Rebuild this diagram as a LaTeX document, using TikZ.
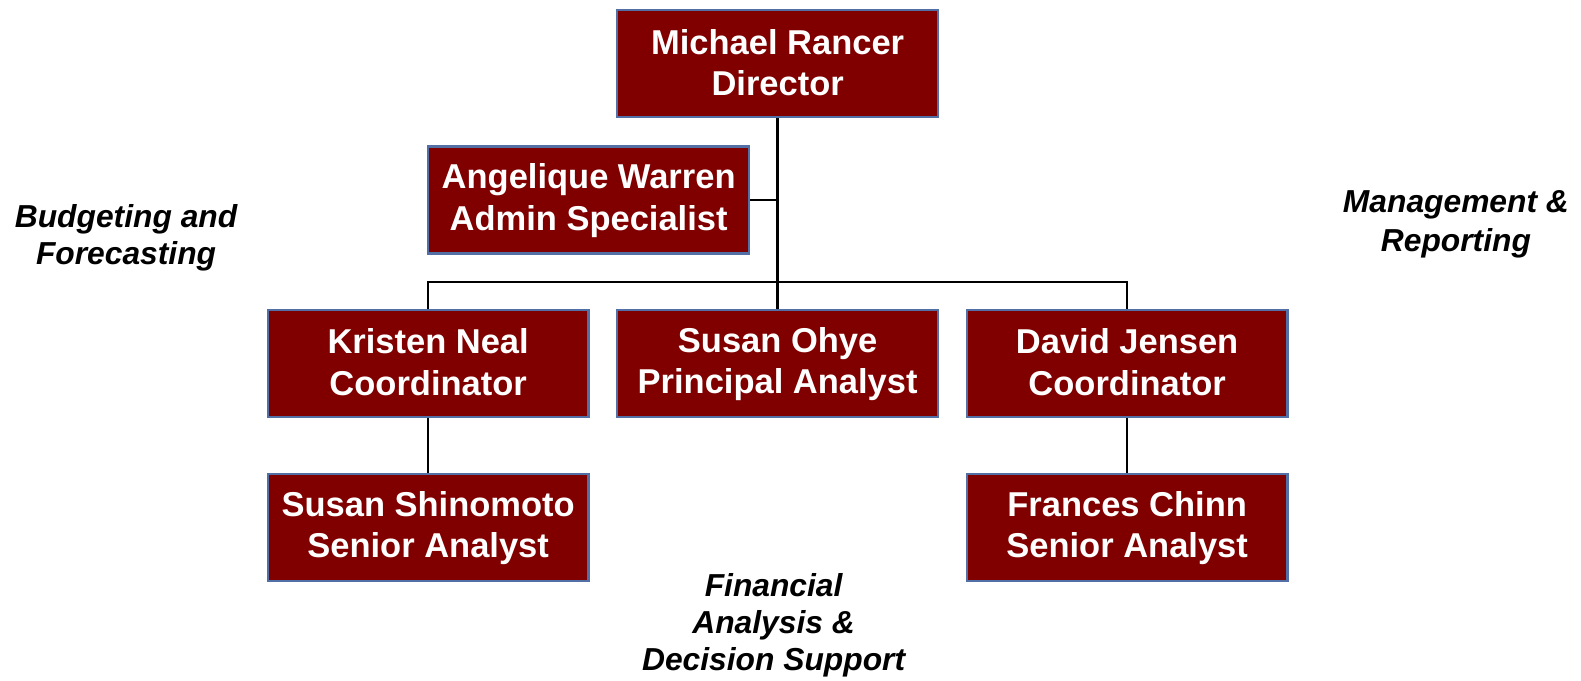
\documentclass[tikz,border=0pt]{standalone}
\usepackage{fontspec}
\setmainfont{Liberation Sans}
\definecolor{boxfill}{HTML}{800000}
\definecolor{boxline}{HTML}{5370A6}
\newcommand\bxs{\rule[-3.7pt]{0pt}{29.5pt}}
\newcommand\lbs{\rule[-8pt]{0pt}{25pt}}
\begin{document}
\begin{tikzpicture}[x=1pt,y=-1pt,
  person/.style={draw=boxline, line width=2.4pt, fill=boxfill, text=white,
    minimum width=318pt, minimum height=106pt, inner sep=0pt, align=center,
    font=\fontsize{34.2}{41}\selectfont\bfseries},
  area/.style={align=center, inner sep=0pt, font=\fontsize{31.5}{#1}\selectfont\bfseries\itshape},
  link/.style={line width=2.6pt, black}]
\useasboundingbox (0,0) rectangle (1567.5,674.2);
\node[person] (dir) at (771,63) {\bxs Michael Rancer\\\bxs Director};
\node[person] (aw)  at (583.6,198.4) {\bxs Angelique Warren\\\bxs Admin Specialist};
\node[person] (kn)  at (424.5,360.4) {\bxs Kristen Neal\\\bxs Coordinator};
\node[person] (so)  at (771,360.4) {\bxs Susan Ohye\\\bxs Principal Analyst};
\node[person] (dj)  at (1117.5,360.4) {\bxs David Jensen\\\bxs Coordinator};
\node[person] (ss)  at (424.5,523) {\bxs Susan Shinomoto\\\bxs Senior Analyst};
\node[person] (fc)  at (1117.5,523) {\bxs Frances Chinn\\\bxs Senior Analyst};
\coordinate (bus) at (771,279.6);
\draw[link] (dir.south) -- (so.north);
\draw[link] (aw.east) -- (dir.south |- aw.east);
\draw[link] (kn.north) |- (bus) -| (dj.north);
\draw[link] (kn.south) -- (ss.north);
\draw[link] (dj.south) -- (fc.north);
\node[area=37.4] (bf) at (125,236.6) {\lbs Budgeting and\\\lbs Forecasting};
\node[area=38.7] (mr) at (1443.5,223.4) {\lbs Management \&\\\lbs Reporting};
\node[area=36.9] (fa) at (767,620.6) {\lbs Financial\\\lbs Analysis \&\\\lbs Decision Support};
\end{tikzpicture}
\end{document}
